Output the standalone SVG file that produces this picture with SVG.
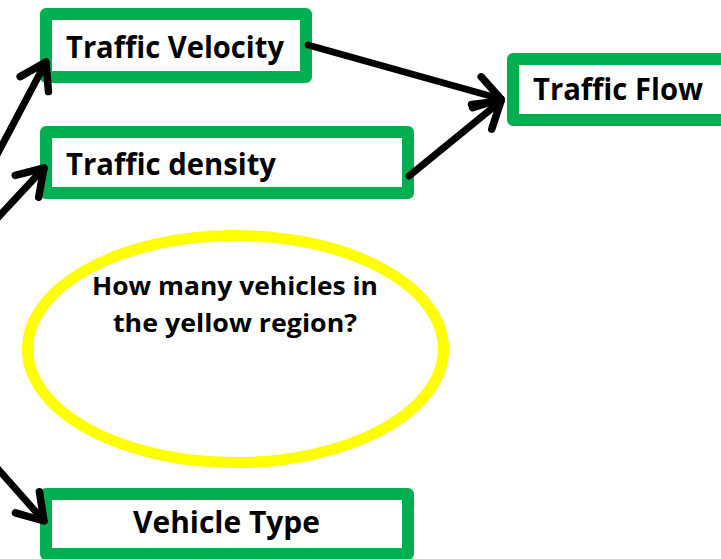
<svg xmlns="http://www.w3.org/2000/svg" width="721" height="559" viewBox="0 0 721 559">
  <style>
    .box { fill: #FFFFFF; stroke: #00B050; stroke-width: 12; stroke-linejoin: round; }
    .label { font-family: "Open Sans", "Liberation Sans", sans-serif; font-weight: bold; fill: #000000; }
    .big { font-size: 30.5px; }
    .small { font-size: 25px; }
    .link { fill: none; stroke: #000000; stroke-width: 7; stroke-linecap: round; }
  </style>
  <defs>
    <marker id="chevron" markerUnits="userSpaceOnUse" orient="auto" refX="0" refY="0"
            markerWidth="60" markerHeight="60" viewBox="-40 -30 60 60" overflow="visible">
      <path d="M -25 -16 L 0 0 L -25 16" fill="none" stroke="#000000" stroke-width="7.5"
            stroke-linecap="round" stroke-linejoin="round"/>
    </marker>
  </defs>
  <rect width="721" height="559" fill="#FFFFFF"/>

  <g id="region">
    <ellipse cx="235.5" cy="349" rx="208" ry="113.5" fill="#FFFFFF" stroke="#FFFF00" stroke-width="11"/>
    <text class="label small" x="92" y="295" textLength="286" lengthAdjust="spacingAndGlyphs">How many vehicles in</text>
    <text class="label small" x="113" y="332" textLength="244" lengthAdjust="spacingAndGlyphs">the yellow region?</text>
  </g>

  <g id="velocity">
    <rect class="box" x="46" y="14" width="260" height="63"/>
    <text class="label big" x="66" y="58" textLength="218" lengthAdjust="spacingAndGlyphs">Traffic Velocity</text>
  </g>

  <g id="density">
    <rect class="box" x="46" y="132" width="362" height="61"/>
    <text class="label big" x="66" y="175" textLength="210" lengthAdjust="spacingAndGlyphs">Traffic density</text>
  </g>

  <g id="flow">
    <rect class="box" x="513" y="59" width="214" height="61"/>
    <text class="label big" x="533" y="100" textLength="170" lengthAdjust="spacingAndGlyphs">Traffic Flow</text>
  </g>

  <g id="vehicle-type">
    <rect class="box" x="46" y="494" width="362" height="60"/>
    <text class="label big" x="133" y="533" textLength="187" lengthAdjust="spacingAndGlyphs">Vehicle Type</text>
  </g>

  <g id="connectors">
    <line class="link" x1="308" y1="45" x2="501" y2="99" marker-end="url(#chevron)"/>
    <line class="link" x1="409" y1="176" x2="501" y2="101" marker-end="url(#chevron)"/>
    <line class="link" x1="-10" y1="168" x2="46" y2="62" marker-end="url(#chevron)"/>
    <line class="link" x1="-10" y1="226" x2="44" y2="168" marker-end="url(#chevron)"/>
    <line class="link" x1="-10" y1="460" x2="44" y2="521" marker-end="url(#chevron)"/>
  </g>
</svg>
